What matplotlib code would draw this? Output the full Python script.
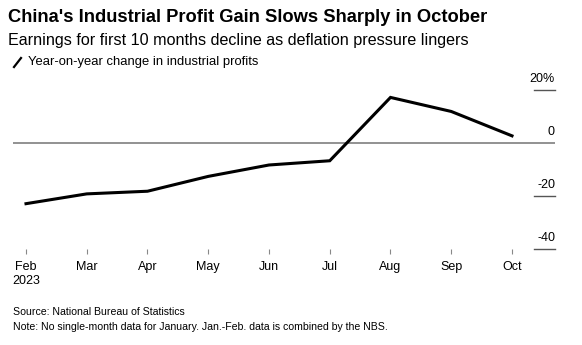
import matplotlib
matplotlib.use("Agg")
import matplotlib.pyplot as plt
from matplotlib.lines import Line2D
from matplotlib import transforms

plt.rcParams['font.family'] = ['Liberation Sans', 'DejaVu Sans']

# Year-on-year change in industrial profits, 2023 (%)
months = ["Feb\n2023", "Mar", "Apr", "May", "Jun", "Jul", "Aug", "Sep", "Oct"]
profit_yoy = [-22.9, -19.2, -18.2, -12.6, -8.3, -6.7, 17.2, 11.9, 2.7]
y_ticks = [20, 0, -20, -40]
y_tick_labels = ["20%", "0", "-20", "-40"]

fig = plt.figure(figsize=(5.82, 3.45), dpi=100)
ax = fig.add_axes([13 / 582, 1 - 254 / 345, (555 - 13) / 582, (254 - 85) / 345])

x = list(range(len(months)))
ax.plot(x, profit_yoy, color='black', linewidth=2.2, solid_joinstyle='miter', zorder=3)

ax.set_xlim(-13 / 60.75, 8 + 43 / 60.75)
ax.set_ylim(-(254 - 143) / 53 * 20, (143 - 85) / 53 * 20)

# zero line across the plot, short marks at the right for the others
ax.axhline(0, color='#7f7f7f', linewidth=1.2, zorder=2)
tr = transforms.blended_transform_factory(ax.transAxes, ax.transData)
x0 = (534 - 13) / (555 - 13)
for v, lab in zip(y_ticks, y_tick_labels):
    if v != 0:
        ax.plot([x0, 1.0], [v, v], transform=tr, color='#555555', linewidth=1.0, clip_on=False)
    ax.text(1.0, v + 2.0, lab, transform=tr, ha='right', va='bottom', fontsize=9, color='black')

for s in ax.spines.values():
    s.set_visible(False)
ax.set_yticks([])
ax.set_xticks(x)
ax.set_xticklabels(months, fontsize=9)
ax.tick_params(axis='x', direction='in', length=3.5, width=0.8, color='#888888', pad=5)

# header
fig.text(8 / 582, 1 - 17.5 / 345, "China's Industrial Profit Gain Slows Sharply in October",
         fontsize=13.2, fontweight='bold', va='center', ha='left')
fig.text(8 / 582, 1 - 40 / 345, "Earnings for first 10 months decline as deflation pressure lingers",
         fontsize=11.6, va='center', ha='left')
fig.add_artist(Line2D([14 / 582, 21 / 582], [1 - 67 / 345, 1 - 58 / 345],
                      color='black', linewidth=1.6, transform=fig.transFigure))
fig.text(28 / 582, 1 - 62 / 345, "Year-on-year change in industrial profits",
         fontsize=9.4, va='center', ha='left')

# footer
fig.text(13 / 582, 1 - 312 / 345, "Source: National Bureau of Statistics",
         fontsize=7.55, va='center', ha='left')
fig.text(13 / 582, 1 - 327 / 345,
         "Note: No single-month data for January. Jan.-Feb. data is combined by the NBS.",
         fontsize=7.55, va='center', ha='left')

fig.savefig("out.png", dpi=100)
